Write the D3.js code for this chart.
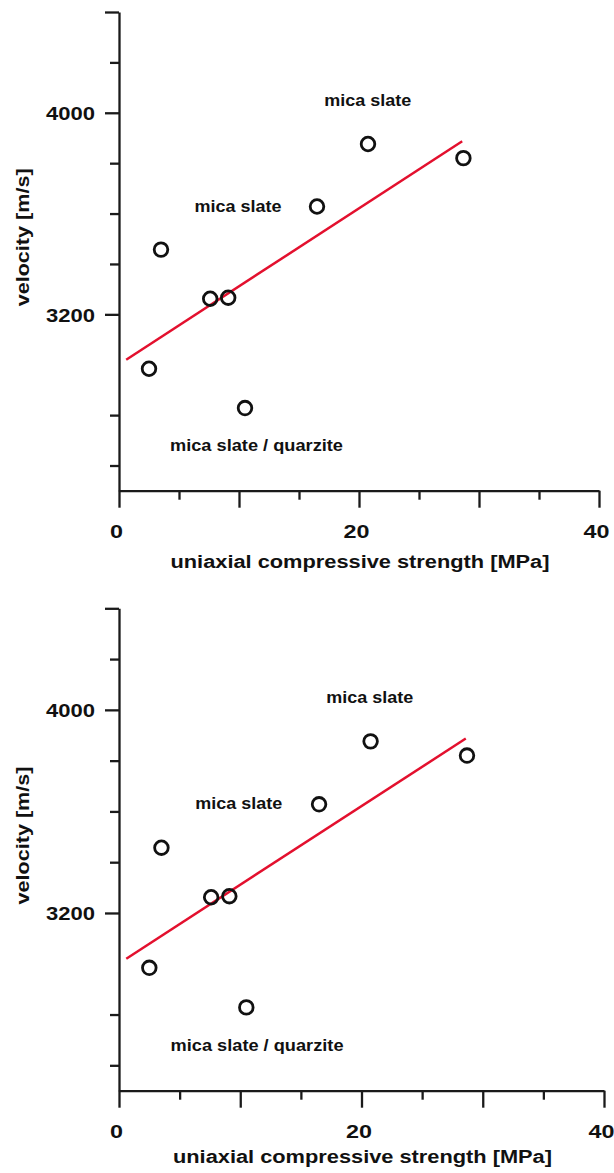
<!DOCTYPE html>
<html>
<head>
<meta charset="utf-8">
<script src="https://cdn.jsdelivr.net/npm/d3@7"></script>
<style>
    body { margin: 0; background: #fff; }
    text { font-family: "Liberation Sans", Arial, sans-serif; font-weight: bold; fill: #111; }
</style>
</head>
<body>
<svg id="chart" width="614" height="1173"></svg>
<script>
const strength = [2.5, 3.5, 7.6, 9.1, 10.5, 16.5, 20.75, 28.7];
const velocity = [2984, 3457, 3262, 3266, 2828, 3628, 3876, 3820];

// red fit line, start and end
const fitStrength = [0.6, 28.6];
const fitVelocity = [3020, 3887];

const xMajorTicks = [0, 10, 20, 30, 40];
const xMinorTicks = [5, 15, 25, 35];
const xTickLabels = [0, 20, 40];
const yMajorTicks = [3200, 4000, 4400];
const yMinorTicks = [2600, 2800, 3400, 3600, 3800, 4200];
const yTickLabels = [3200, 4000];

const noteText = ["mica slate", "mica slate", "mica slate / quarzite"];
const noteStrength = [17.1, 6.3, 4.25];
const noteVelocity = [4026, 3608, 2657];
const noteWidth = [87, 87, 173];

const xTitle = "uniaxial compressive strength [MPa]";
const yTitle = "velocity [m/s]";

// the figure is printed twice, second copy a bit bigger
const panels = [
    { left: 119, right: 599, top: 12, bottom: 490.7, titleGap: 77 },
    { left: 119, right: 604, top: 608.3, bottom: 1090.7, titleGap: 72 }
];

function drawPanel(svg, p) {
    let x = d3.scaleLinear().domain([0, 40]).range([p.left, p.right]);
    let y = d3.scaleLinear().domain([2500, 4400]).range([p.bottom, p.top]);

    let g = svg.append("g");

    // x axis
    let xMinor = g.append("g")
        .attr("transform", "translate(0," + p.bottom + ")")
        .call(d3.axisBottom(x).tickValues(xMinorTicks).tickSize(9).tickSizeOuter(0).tickFormat(""));
    xMinor.select(".domain").remove();

    let xMajor = g.append("g")
        .attr("transform", "translate(0," + p.bottom + ")")
        .call(d3.axisBottom(x).tickValues(xMajorTicks).tickSize(17).tickSizeOuter(0)
            .tickFormat(function(d) { return xTickLabels.indexOf(d) >= 0 ? d : ""; }));

    xMajor.selectAll("text")
        .attr("y", 47.6)
        .attr("dy", 0)
        .attr("dx", -3)
        .attr("font-size", 18)
        .attr("textLength", function(d) { return d === 0 ? 13 : 26; })
        .attr("lengthAdjust", "spacingAndGlyphs");

    // y axis
    let yMinor = g.append("g")
        .attr("transform", "translate(" + p.left + ",0)")
        .call(d3.axisLeft(y).tickValues(yMinorTicks).tickSize(9).tickSizeOuter(0).tickFormat(""));
    yMinor.select(".domain").remove();

    let yMajor = g.append("g")
        .attr("transform", "translate(" + p.left + ",0)")
        .call(d3.axisLeft(y).tickValues(yMajorTicks).tickSize(14).tickSizeOuter(0)
            .tickFormat(function(d) { return yTickLabels.indexOf(d) >= 0 ? d : ""; }));

    yMajor.selectAll("text")
        .attr("x", -24)
        .attr("dy", 7)
        .attr("font-size", 18)
        .attr("textLength", function(d) { return yTickLabels.indexOf(d) >= 0 ? 49 : null; })
        .attr("lengthAdjust", "spacingAndGlyphs");

    g.selectAll(".domain, .tick line")
        .attr("stroke", "#1a1a1a")
        .attr("stroke-width", 2.3);
    g.selectAll(".tick text").attr("fill", "#111").attr("font-family", null);

    // fit line
    let fit = d3.line()
        .x(function(d) { return x(d[0]); })
        .y(function(d) { return y(d[1]); });

    g.append("path")
        .datum(d3.zip(fitStrength, fitVelocity))
        .attr("d", fit)
        .attr("fill", "none")
        .attr("stroke", "#e3102e")
        .attr("stroke-width", 2.5);

    // points
    g.selectAll("circle.pt")
        .data(d3.zip(strength, velocity))
        .enter()
        .append("circle")
        .attr("class", "pt")
        .attr("cx", function(d) { return x(d[0]); })
        .attr("cy", function(d) { return y(d[1]); })
        .attr("r", 6.8)
        .attr("fill", "none")
        .attr("stroke", "#111")
        .attr("stroke-width", 2.8);

    // labels on the rocks
    g.selectAll("text.note")
        .data(noteText)
        .enter()
        .append("text")
        .attr("class", "note")
        .attr("x", function(d, i) { return x(noteStrength[i]); })
        .attr("y", function(d, i) { return y(noteVelocity[i]); })
        .attr("font-size", 17)
        .attr("textLength", function(d, i) { return noteWidth[i]; })
        .attr("lengthAdjust", "spacingAndGlyphs")
        .text(function(d) { return d; });

    // axis titles
    g.append("text")
        .attr("x", (p.left + p.right) / 2 + 1)
        .attr("y", p.bottom + p.titleGap)
        .attr("text-anchor", "middle")
        .attr("font-size", 18)
        .attr("textLength", 379)
        .attr("lengthAdjust", "spacingAndGlyphs")
        .text(xTitle);

    let midY = (p.top + p.bottom) / 2 - 14;
    g.append("text")
        .attr("transform", "translate(28.5," + midY + ") rotate(-90)")
        .attr("text-anchor", "middle")
        .attr("font-size", 18)
        .attr("textLength", 138)
        .attr("lengthAdjust", "spacingAndGlyphs")
        .text(yTitle);
}

let svg = d3.select("#chart");
svg.append("rect").attr("width", 614).attr("height", 1173).attr("fill", "#fff");
panels.forEach(function(p) {
    drawPanel(svg, p);
});
</script>
</body>
</html>
